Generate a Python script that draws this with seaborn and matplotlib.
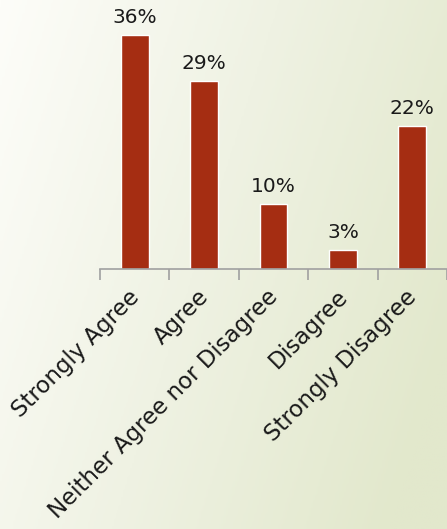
import numpy as np
import pandas as pd
import seaborn as sns
import matplotlib.pyplot as plt
from matplotlib.colors import LinearSegmentedColormap
from matplotlib.transforms import ScaledTranslation

categories = ['Strongly Agree', 'Agree', 'Neither Agree nor Disagree', 'Disagree', 'Strongly Disagree']
values = [36, 29, 10, 3, 22]
labels = ['36%', '29%', '10%', '3%', '22%']

df = pd.DataFrame({'answer': categories, 'pct': values})

sns.set_theme(style='white')
plt.rcParams['font.family'] = ['DejaVu Sans']

fig = plt.figure(figsize=(4.47, 5.29), dpi=100)

# background gradient (white at top-left, pale green to the right)
bg = fig.add_axes([0, 0, 1, 1], zorder=-1)
gx, gy = np.meshgrid(np.linspace(0, 1, 200), np.linspace(0, 1, 200))
grad = np.clip(0.8 * gx + 0.3 * gy, 0, 1)
cmap = LinearSegmentedColormap.from_list('bg', ['#fdfdf9', '#eff2e3', '#e2e8cc'])
bg.imshow(grad, cmap=cmap, aspect='auto', extent=[0, 1, 0, 1], origin='upper')
bg.axis('off')

ax = fig.add_axes([100 / 447, 260 / 529, 347 / 447, 269 / 529])
ax.patch.set_alpha(0)
sns.barplot(data=df, x='answer', y='pct', color='#a52d12', width=0.4,
            saturation=1, ax=ax)

for i, (v, t) in enumerate(zip(values, labels)):
    ax.text(i, v + 1.2, t, ha='center', va='bottom', fontsize=14.5, color='#1a1a1a')

ax.set_ylim(0, 41.4)
ax.set_xlim(-0.5, 4.5)
ax.set_yticks([])
ax.set_xlabel('')
ax.set_ylabel('')
for s in ['top', 'right', 'left']:
    ax.spines[s].set_visible(False)
ax.spines['bottom'].set_color('#a0a0a0')
ax.spines['bottom'].set_linewidth(1.2)

ax.set_xticks(np.arange(-0.5, 5.0, 1.0), minor=True)
ax.tick_params(axis='x', which='minor', bottom=True, length=8, width=1.2, color='#a0a0a0')
ax.tick_params(axis='x', which='major', length=0, pad=14)
ax.set_xticks(range(len(categories)))
ax.set_xticklabels(categories, rotation=45, ha='right', rotation_mode='anchor',
                   fontsize=16.5, color='#1a1a1a')
shift = ScaledTranslation(-0.07, 0.03, fig.dpi_scale_trans)
for lbl in ax.get_xticklabels():
    lbl.set_transform(lbl.get_transform() + shift)

fig.savefig('out.png', dpi=100)
